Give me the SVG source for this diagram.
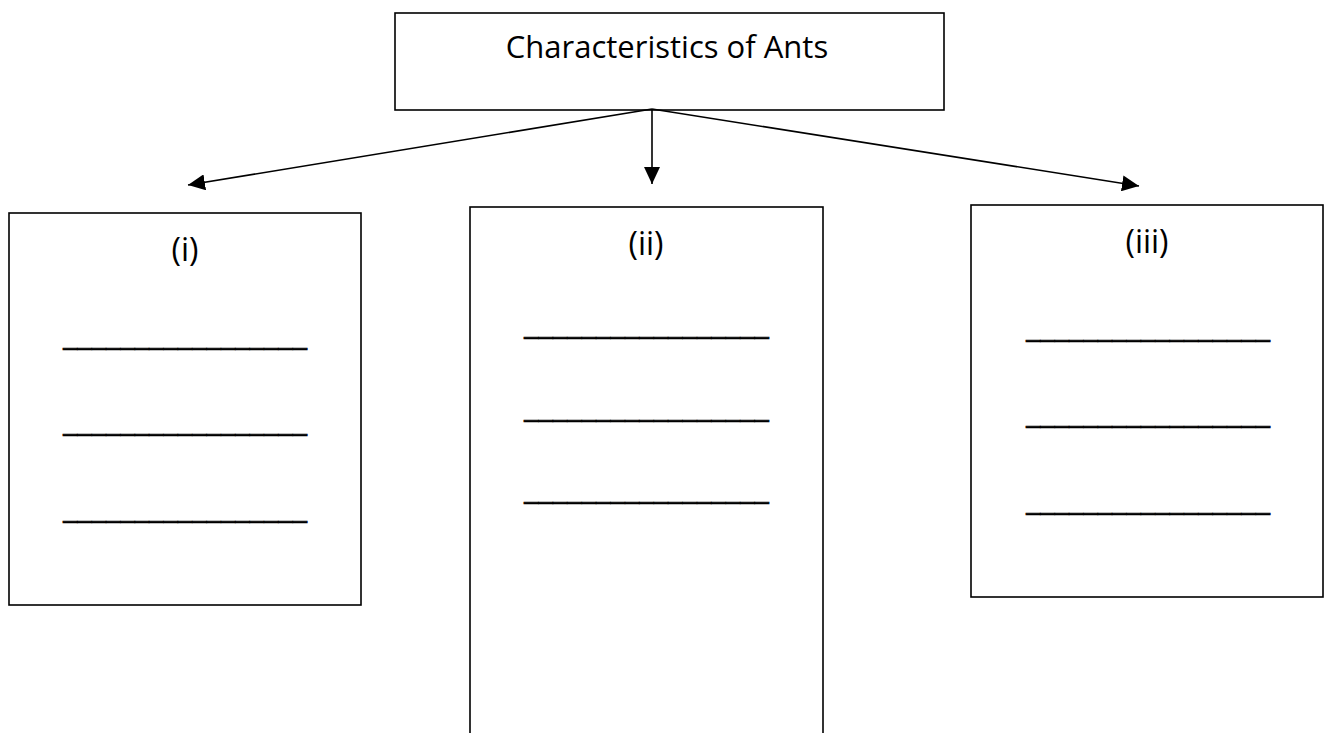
<svg xmlns="http://www.w3.org/2000/svg" width="1326" height="733" viewBox="0 0 1326 733">
<style>
.box{fill:#fff;stroke:#000;stroke-width:1.6}
.t{font-family:"Open Sans","Noto Sans",sans-serif;font-size:31px;fill:#000;text-anchor:middle}
.l{font-family:"Open Sans","Noto Sans",sans-serif;font-size:32px;fill:#000;text-anchor:middle}
.u{font-family:"Open Sans","Noto Sans",sans-serif;font-size:31px;fill:#000;stroke:#000;stroke-width:0.7}
.c{stroke:#000;stroke-width:1.6;fill:none;marker-end:url(#ah)}
</style>
<defs>
<marker id="ah" markerUnits="userSpaceOnUse" markerWidth="18" markerHeight="16" viewBox="0 0 18 16" refX="17" refY="8" orient="auto">
<path d="M0,0 L17,8 L0,16 z" fill="#000"/>
</marker>
</defs>
<rect width="1326" height="733" fill="#fff"/>
<g id="root">
<rect class="box" x="395" y="13" width="549" height="97"/>
<text class="t" x="667" y="58">Characteristics of Ants</text>
</g>
<g id="n1">
<rect class="box" x="9" y="213" width="352" height="392"/>
<text class="l" x="185" y="261">(i)</text>
<text class="u" x="63" y="345" textLength="244" lengthAdjust="spacingAndGlyphs">_________________</text>
<text class="u" x="63" y="431" textLength="244" lengthAdjust="spacingAndGlyphs">_________________</text>
<text class="u" x="63" y="518" textLength="244" lengthAdjust="spacingAndGlyphs">_________________</text>
</g>
<g id="n2">
<rect class="box" x="470" y="207" width="353" height="540"/>
<text class="l" x="646" y="255">(ii)</text>
<text class="u" x="524" y="334" textLength="245" lengthAdjust="spacingAndGlyphs">_________________</text>
<text class="u" x="524" y="417" textLength="245" lengthAdjust="spacingAndGlyphs">_________________</text>
<text class="u" x="524" y="499" textLength="245" lengthAdjust="spacingAndGlyphs">_________________</text>
</g>
<g id="n3">
<rect class="box" x="971" y="205" width="352" height="392"/>
<text class="l" x="1147" y="253">(iii)</text>
<text class="u" x="1026" y="337" textLength="244" lengthAdjust="spacingAndGlyphs">_________________</text>
<text class="u" x="1026" y="423" textLength="244" lengthAdjust="spacingAndGlyphs">_________________</text>
<text class="u" x="1026" y="510" textLength="244" lengthAdjust="spacingAndGlyphs">_________________</text>
</g>
<g id="connectors">
<line class="c" x1="652" y1="109" x2="188" y2="185"/>
<line class="c" x1="652" y1="109" x2="652" y2="184"/>
<line class="c" x1="652" y1="109" x2="1139" y2="186"/>
</g>
</svg>
